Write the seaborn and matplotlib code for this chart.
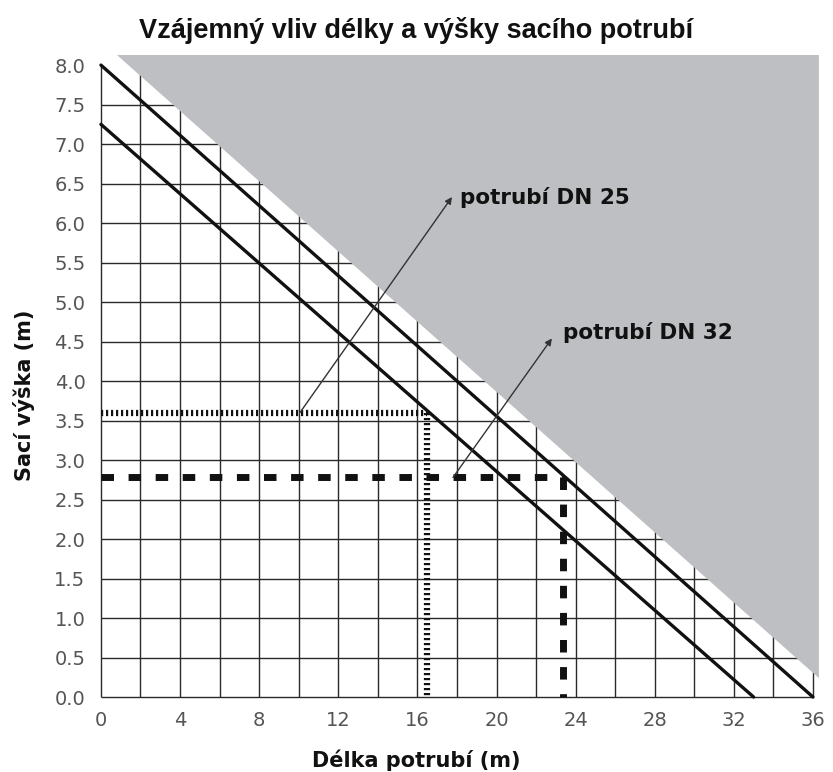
import matplotlib
matplotlib.use("Agg")
import matplotlib.pyplot as plt
import seaborn as sns
import numpy as np
import pandas as pd

# ---- data ----
dn25_x = [0.0, 36.0]
dn25_y = [8.0, 0.0]
dn32_x = [0.0, 33.0]
dn32_y = [7.25, 0.0]
# shaded (out-of-range) region boundary
shade_x = [0.8, 36.3, 36.3]
shade_y = [8.13, 0.24, 8.13]
# operating points
op25 = (16.5, 3.6)
op32 = (23.35, 2.78)
# annotation arrows (start on guide line -> end at label)
arrow25 = ((10.06, 3.6), (17.75, 6.33))
arrow32 = ((17.8, 2.78), (22.8, 4.54))
label25 = "potrubí DN 25"
label32 = "potrubí DN 32"
label25_pos = (18.15, 6.32)
label32_pos = (23.36, 4.62)

x_ticks = [0, 4, 8, 12, 16, 20, 24, 28, 32, 36]
y_ticks = [0.0, 0.5, 1.0, 1.5, 2.0, 2.5, 3.0, 3.5, 4.0, 4.5, 5.0, 5.5, 6.0, 6.5, 7.0, 7.5, 8.0]
x_grid = list(range(0, 37, 2))
y_grid = [0.0, 0.5, 1.0, 1.5, 2.0, 2.5, 3.0, 3.5, 4.0, 4.5, 5.0, 5.5, 6.0, 6.5, 7.0, 7.5]

title = "Vzájemný vliv délky a výšky sacího potrubí"
xlabel = "Délka potrubí (m)"
ylabel = "Sací výška (m)"

sns.set_theme(style="white")
plt.rcParams['font.family'] = ['DejaVu Sans']

fig = plt.figure(figsize=(8.33, 7.72), dpi=100)
ax = fig.add_axes([0.1176, 0.093, 0.8655, 0.836])
ax.set_xlim(-0.15, 36.3)
ax.set_ylim(-0.04, 8.13)
for s in ax.spines.values():
    s.set_visible(False)

# grid
ax.vlines(x_grid, 0, 8.0, color="#2a2a2a", lw=1.0, zorder=1)
ax.hlines(y_grid, 0, 36.0, color="#2a2a2a", lw=1.0, zorder=1)

# shaded region on top of grid
ax.fill(shade_x, shade_y, color="#bdbfc2", lw=0, zorder=2)

# main lines
df = pd.concat([
    pd.DataFrame({"x": dn25_x, "y": dn25_y, "s": "DN25"}),
    pd.DataFrame({"x": dn32_x, "y": dn32_y, "s": "DN32"}),
])
sns.lineplot(data=df, x="x", y="y", units="s", estimator=None, color="#111111",
             lw=2.4, ax=ax, zorder=4, legend=False)

# guide lines
ax.plot([0, op25[0]], [op25[1], op25[1]], color="#111111", lw=4.5,
        linestyle=(0, (0.35, 0.45)), zorder=3, dash_capstyle="butt")
ax.plot([op25[0], op25[0]], [op25[1], 0], color="#111111", lw=4.5,
        linestyle=(0, (0.35, 0.45)), zorder=3, dash_capstyle="butt")
ax.plot([0, op32[0]], [op32[1], op32[1]], color="#111111", lw=5,
        linestyle=(0, (1.8, 2.1)), zorder=3, dash_capstyle="butt")
ax.plot([op32[0], op32[0]], [op32[1], 0], color="#111111", lw=5,
        linestyle=(0, (1.8, 2.1)), zorder=3, dash_capstyle="butt")

# annotations
for (st, en), txt, pos in [(arrow25, label25, label25_pos), (arrow32, label32, label32_pos)]:
    ax.annotate("", xy=en, xytext=st,
                arrowprops=dict(arrowstyle="-|>", color="#333333", lw=1.0,
                                mutation_scale=10, shrinkA=0, shrinkB=0), zorder=5)
    ax.text(pos[0], pos[1], txt, ha="left", va="center", fontsize=15.5,
            fontweight="bold", color="#111111", zorder=5)

ax.set_xticks(x_ticks)
ax.set_xticklabels([str(v) for v in x_ticks])
ax.set_yticks(y_ticks)
ax.set_yticklabels([f"{v:.1f}" for v in y_ticks])
ax.tick_params(axis="both", length=0, labelsize=14, colors="#555555")
ax.tick_params(axis="y", pad=9)
ax.tick_params(axis="x", pad=8)

ax.set_xlabel(xlabel, fontsize=15, fontweight="bold", color="#111111")
ax.set_ylabel(ylabel, fontsize=15, fontweight="bold", color="#111111")
ax.xaxis.set_label_coords(0.441, -0.077)
ax.yaxis.set_label_coords(-0.087, 0.473)

fig.text(0.5, 0.961, title, ha="center", va="center", fontsize=19.5,
         fontweight="bold", family="Liberation Sans", color="#111111")

fig.savefig("out.png", dpi=100)
